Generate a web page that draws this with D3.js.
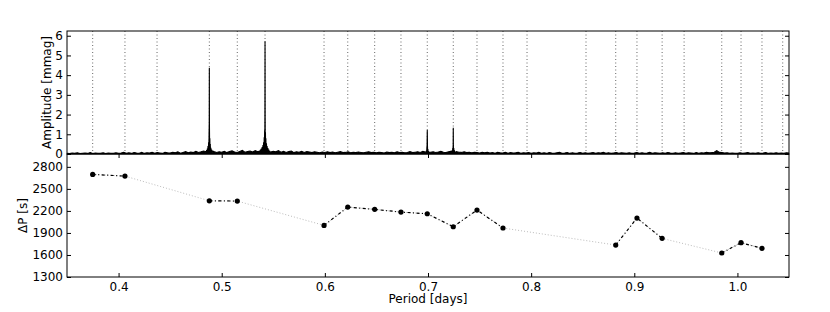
<!DOCTYPE html>
<html>
<head>
<meta charset="utf-8">
<script src="https://cdn.jsdelivr.net/npm/d3@7/dist/d3.min.js"></script>
<style>
  body { margin: 0; background: #fff; }
  svg { display: block; }
  text { font-family: "DejaVu Sans", sans-serif; }
</style>
</head>
<body>
<svg id="chart" width="830" height="312"></svg>
<script>
// periods of the identified modes (dotted lines in the upper panel)
var modePeriods = [0.3749, 0.4062, 0.4373, 0.4880, 0.5151, 0.5420, 0.5992, 0.6222,
    0.6483, 0.6738, 0.6993, 0.7245, 0.7475, 0.7727, 0.7960, 0.8532, 0.8820, 0.9026,
    0.9270, 0.9483, 0.9848, 1.0035, 1.0238, 1.0439];

// period spacing panel
var spacingPeriods = [0.3749, 0.4062, 0.4880, 0.5151, 0.5992, 0.6222, 0.6483, 0.6738,
    0.6993, 0.7245, 0.7475, 0.7727, 0.8820, 0.9026, 0.9270, 0.9848, 1.0035, 1.0238];
var spacingValues = [2697, 2674, 2338, 2334, 2003, 2252, 2221, 2184,
    2161, 1984, 2212, 1967, 1735, 2103, 1826, 1627, 1767, 1690];
// consecutive runs joined by the dash-dot line
var spacingRuns = [0, 0, 1, 1, 2, 2, 2, 2, 2, 2, 2, 2, 3, 3, 3, 4, 4, 4];

// amplitude spectrum: noise floor sampled every 0.0025 d from 0.35 d
var noiseStart = 0.35, noiseStep = 0.0025;
var noiseAmp = [
    0.04,0.02,0.05,0.03,0.06,0.02,0.04,0.05,0.03,0.07,0.02,0.05,0.04,0.03,0.06,0.02,0.05,0.04,0.03,0.06,
    0.03,0.05,0.08,0.04,0.06,0.03,0.07,0.05,0.04,0.08,0.03,0.06,0.05,0.09,0.04,0.07,0.05,0.03,0.08,0.06,
    0.05,0.09,0.06,0.11,0.04,0.08,0.12,0.06,0.10,0.07,0.13,0.08,0.11,0.15,0.09,0.14,0.10,0.12,0.08,0.11,
    0.09,0.14,0.07,0.12,0.16,0.10,0.08,0.13,0.18,0.09,0.12,0.15,0.10,0.17,0.11,0.14,0.19,0.12,0.16,0.10,
    0.14,0.11,0.17,0.09,0.13,0.08,0.12,0.15,0.07,0.11,0.09,0.13,0.08,0.12,0.10,0.07,0.11,0.09,0.06,0.10,
    0.08,0.11,0.07,0.10,0.06,0.09,0.12,0.07,0.08,0.11,0.06,0.09,0.07,0.10,0.08,0.06,0.09,0.11,0.07,0.08,
    0.06,0.09,0.07,0.05,0.10,0.07,0.08,0.06,0.11,0.07,0.09,0.06,0.08,0.12,0.07,0.09,0.11,0.08,0.13,0.10,
    0.12,0.09,0.11,0.08,0.10,0.13,0.09,0.07,0.11,0.14,0.10,0.12,0.09,0.08,0.11,0.07,0.09,0.06,0.08,0.07,
    0.05,0.08,0.06,0.09,0.05,0.07,0.04,0.08,0.06,0.05,0.09,0.04,0.07,0.05,0.06,0.08,0.04,0.06,0.05,0.07,
    0.04,0.06,0.05,0.08,0.04,0.06,0.03,0.07,0.05,0.04,0.06,0.08,0.04,0.05,0.07,0.03,0.06,0.04,0.05,0.07,
    0.04,0.06,0.03,0.05,0.07,0.04,0.06,0.05,0.08,0.04,0.06,0.03,0.05,0.07,0.04,0.06,0.05,0.03,0.06,0.04,
    0.05,0.07,0.04,0.06,0.03,0.05,0.08,0.04,0.06,0.05,0.03,0.06,0.04,0.07,0.05,0.04,0.06,0.03,0.05,0.07,
    0.04,0.06,0.05,0.03,0.07,0.04,0.06,0.05,0.08,0.06,0.07,0.09,0.17,0.08,0.07,0.05,0.06,0.04,0.05,0.04,
    0.04,0.06,0.03,0.05,0.07,0.04,0.05,0.03,0.06,0.04,0.05,0.07,0.03,0.05,0.04,0.06,0.03,0.05,0.04,0.06,
    0.05
];
// resolved peak profiles [period, amplitude], densely sampled skirts
var peak1 = [[0.4845,0.12],[0.4849,0.04],[0.4853,0.20],[0.4857,0.06],[0.4861,0.28],[0.4864,0.07],
    [0.4867,0.40],[0.4870,0.10],[0.4873,0.60],[0.4875,0.15],[0.4877,0.90],[0.4879,1.60],[0.4880,4.37],
    [0.4881,1.50],[0.4883,0.25],[0.4885,0.80],[0.4887,0.12],[0.4889,0.50],[0.4892,0.08],[0.4895,0.32],
    [0.4898,0.06],[0.4902,0.22],[0.4906,0.05],[0.4910,0.15]];
var peak2 = [[0.5368,0.15],[0.5372,0.05],[0.5376,0.22],[0.5380,0.06],[0.5384,0.28],[0.5388,0.08],
    [0.5392,0.35],[0.5396,0.05],[0.5400,0.45],[0.5403,0.10],[0.5406,0.60],[0.5409,0.12],[0.5412,0.85],
    [0.5414,0.20],[0.5416,1.20],[0.5418,0.40],[0.5419,1.90],[0.5420,5.72],[0.5421,1.80],[0.5422,0.35],
    [0.5424,1.10],[0.5426,0.18],[0.5428,0.80],[0.5431,0.10],[0.5434,0.55],[0.5437,0.08],[0.5440,0.40],
    [0.5444,0.06],[0.5448,0.30],[0.5452,0.05],[0.5456,0.22],[0.5460,0.07],[0.5465,0.16],[0.5470,0.06]];
var peak3 = [[0.6978,0.10],[0.6981,0.03],[0.6984,0.16],[0.6987,0.05],[0.6989,0.28],[0.6991,0.45],
    [0.6993,1.22],[0.6995,0.40],[0.6997,0.08],[0.6999,0.25],[0.7002,0.05],[0.7005,0.15],[0.7009,0.04],
    [0.7013,0.10]];
var peak4 = [[0.7228,0.10],[0.7231,0.03],[0.7234,0.18],[0.7237,0.05],[0.7240,0.30],[0.7242,0.10],
    [0.7244,0.50],[0.7245,1.33],[0.7246,0.45],[0.7248,0.08],[0.7250,0.30],[0.7253,0.05],[0.7256,0.18],
    [0.7260,0.04],[0.7264,0.12],[0.7268,0.05]];

var xTicks = [0.4, 0.5, 0.6, 0.7, 0.8, 0.9, 1.0];
var ampTicks = [0, 1, 2, 3, 4, 5, 6];
var dpTicks = [1300, 1600, 1900, 2200, 2500, 2800];

var left = 67, right = 789;
var top1 = 31, mid = 154, bottom2 = 277;

var svg = d3.select("#chart");

var x = d3.scaleLinear().domain([0.35, 1.05]).range([left, right]);
var yAmp = d3.scaleLinear().domain([0, 6.24]).range([mid, top1]);
var yDp = d3.scaleLinear().domain([1300, 2975]).range([bottom2, mid]);

// build spectrum: noise floor with peak windows replaced by their profiles
var peaks = [peak1, peak2, peak3, peak4];
var spectrum = [];
noiseAmp.forEach(function (a, i) {
    var p = noiseStart + i * noiseStep;
    var inside = peaks.some(function (pk) { return p >= pk[0][0] && p <= pk[pk.length - 1][0]; });
    if (!inside) spectrum.push([p, a]);
});
peaks.forEach(function (pk) { spectrum = spectrum.concat(pk); });
spectrum.sort(function (a, b) { return a[0] - b[0]; });

svg.append("clipPath").attr("id", "clipTop").append("rect")
    .attr("x", left).attr("y", top1).attr("width", right - left).attr("height", mid - top1);
svg.append("clipPath").attr("id", "clipBot").append("rect")
    .attr("x", left).attr("y", mid).attr("width", right - left).attr("height", bottom2 - mid);

// upper panel
var gTop = svg.append("g").attr("clip-path", "url(#clipTop)");
gTop.selectAll("line.mode").data(modePeriods).enter().append("line")
    .attr("class", "mode")
    .attr("x1", function (d) { return x(d); }).attr("x2", function (d) { return x(d); })
    .attr("y1", top1).attr("y2", mid)
    .attr("stroke", "#666").attr("stroke-width", 1).attr("stroke-dasharray", "1,2.5");
// the dense periodogram reads as a filled band at this size
gTop.append("path").datum(spectrum)
    .attr("d", d3.area().x(function (d) { return x(d[0]); }).y0(mid).y1(function (d) { return yAmp(d[1]); }))
    .attr("fill", "black");
gTop.append("path").datum(spectrum)
    .attr("d", d3.line().x(function (d) { return x(d[0]); }).y(function (d) { return yAmp(d[1]); }))
    .attr("fill", "none").attr("stroke", "black").attr("stroke-width", 1.1)
    .attr("stroke-linejoin", "miter").attr("stroke-miterlimit", 2);

// lower panel
var gBot = svg.append("g").attr("clip-path", "url(#clipBot)");
var pts = spacingPeriods.map(function (p, i) { return { p: p, v: spacingValues[i], run: spacingRuns[i] }; });
var line = d3.line().x(function (d) { return x(d.p); }).y(function (d) { return yDp(d.v); });
gBot.append("path").datum(pts).attr("d", line)
    .attr("fill", "none").attr("stroke", "#aaa").attr("stroke-width", 0.8).attr("stroke-dasharray", "1,2");
d3.groups(pts, function (d) { return d.run; }).forEach(function (g) {
    gBot.append("path").datum(g[1]).attr("d", line)
        .attr("fill", "none").attr("stroke", "black").attr("stroke-width", 1.2)
        .attr("stroke-dasharray", "3,2.5,1,2.5");
});
gBot.selectAll("circle").data(pts).enter().append("circle")
    .attr("cx", function (d) { return x(d.p); }).attr("cy", function (d) { return yDp(d.v); })
    .attr("r", 2.6).attr("fill", "black");

// axes, ticks inside
function styleAxis(g) {
    g.select(".domain").remove();
    g.selectAll("text").attr("font-size", 12).attr("font-family", "DejaVu Sans, sans-serif").attr("fill", "black");
    g.selectAll(".tick line").attr("stroke", "black");
}
svg.append("g").attr("transform", "translate(" + left + ",0)")
    .call(d3.axisLeft(yAmp).tickValues(ampTicks).tickSize(-4).tickPadding(4).tickFormat(d3.format("d")))
    .call(styleAxis);
svg.append("g").attr("transform", "translate(" + right + ",0)")
    .call(d3.axisRight(yAmp).tickValues(ampTicks).tickSize(-4).tickFormat(""))
    .call(styleAxis);
svg.append("g").attr("transform", "translate(0," + mid + ")")
    .call(d3.axisTop(x).tickValues(xTicks).tickSize(-4).tickFormat(""))
    .call(styleAxis);
svg.append("g").attr("transform", "translate(" + left + ",0)")
    .call(d3.axisLeft(yDp).tickValues(dpTicks).tickSize(-4).tickPadding(4).tickFormat(d3.format("d")))
    .call(styleAxis);
svg.append("g").attr("transform", "translate(" + right + ",0)")
    .call(d3.axisRight(yDp).tickValues(dpTicks).tickSize(-4).tickFormat(""))
    .call(styleAxis);
svg.append("g").attr("transform", "translate(0," + bottom2 + ")")
    .call(d3.axisBottom(x).tickValues(xTicks).tickSize(-4).tickPadding(5).tickFormat(d3.format(".1f")))
    .call(styleAxis);

// frames
svg.append("rect").attr("x", left).attr("y", top1).attr("width", right - left).attr("height", mid - top1)
    .attr("fill", "none").attr("stroke", "black").attr("stroke-width", 1);
svg.append("rect").attr("x", left).attr("y", mid).attr("width", right - left).attr("height", bottom2 - mid)
    .attr("fill", "none").attr("stroke", "black").attr("stroke-width", 1);

// labels
svg.append("text").attr("transform", "translate(51," + ((top1 + mid) / 2) + ") rotate(-90)")
    .attr("text-anchor", "middle").attr("font-size", 12).text("Amplitude [mmag]");
svg.append("text").attr("transform", "translate(27," + ((mid + bottom2) / 2) + ") rotate(-90)")
    .attr("text-anchor", "middle").attr("font-size", 12).text("ΔP [s]");
svg.append("text").attr("x", (left + right) / 2).attr("y", 303)
    .attr("text-anchor", "middle").attr("font-size", 12).text("Period [days]");
</script>
</body>
</html>
